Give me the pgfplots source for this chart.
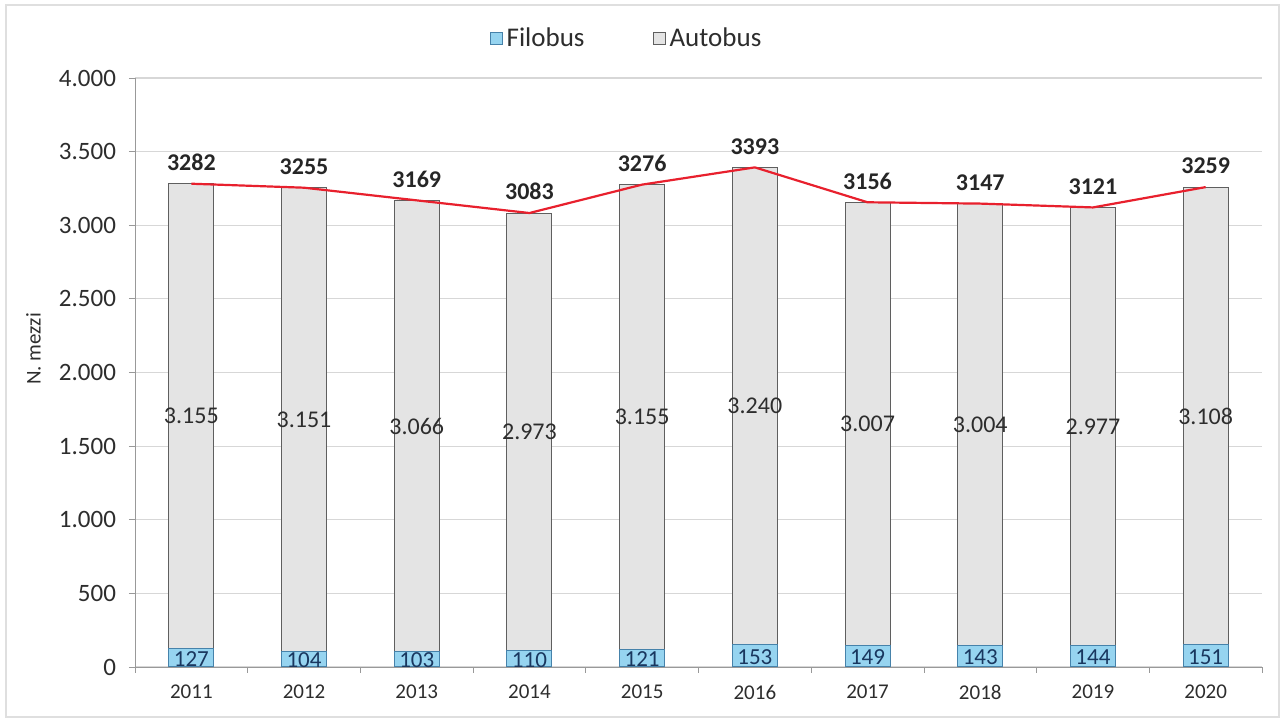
\documentclass[border=0pt]{standalone}
\usepackage{pgfplots}
\pgfplotsset{compat=1.18}
\usepackage{pgfplotstable}
\usepackage{fontspec}
\setmainfont{Carlito}
\usetikzlibrary{calc}
\definecolor{filo}{RGB}{150,212,240}
\definecolor{filoedge}{RGB}{70,130,170}
\definecolor{auto}{RGB}{228,228,228}
\definecolor{autoedge}{RGB}{95,95,95}
\definecolor{linered}{RGB}{232,32,45}
\definecolor{gridc}{RGB}{215,215,215}
\definecolor{txt}{RGB}{45,45,45}
\definecolor{filotxt}{RGB}{25,55,95}

\pgfplotstableread{
x filo auto tot
0 127 3155 3282
1 104 3151 3255
2 103 3066 3169
3 110 2973 3083
4 121 3155 3276
5 153 3240 3393
6 149 3007 3156
7 143 3004 3147
8 144 2977 3121
9 151 3108 3259
}\data

\begin{document}
\begin{tikzpicture}
\pgfplotsset{
  base/.style={
    scale only axis, width=563.5pt, height=294.5pt,
    xmin=-0.5, xmax=9.5, ymin=0, ymax=4000,
  }
}
\begin{axis}[base, name=main,
  ybar stacked, bar width=22.5pt,
  ytick={0,500,...,4000},
  /pgf/number format/.cd, 1000 sep={.}, assume math mode=true, /pgfplots/.cd,
  yticklabel style={font=\fontsize{12.5}{14}\selectfont, text=txt, xshift=-3pt},
  xticklabel style={font=\fontsize{10.5}{12}\selectfont, text=txt, yshift=-2.5pt},
  xtick={0,...,9},
  xticklabels={2011,2012,2013,2014,2015,2016,2017,2018,2019,2020},
  minor xtick={-0.5,0.5,...,9.5},
  major x tick style={draw=none},
  minor x tick style={draw=gray!80, thin},
  tick align=outside, major tick length=3pt, minor tick length=3pt,
  y tick style={draw=gray!80, thin},
  ymajorgrids, grid style={gridc, line width=0.6pt},
  axis x line*=bottom, axis y line*=left,
  axis line style={gray!80, thin, -},
  ylabel={N. mezzi},
  ylabel style={at={(axis description cs:-0.09,0.54)}, anchor=center, font=\fontsize{10.5}{12}\selectfont, text=txt},
  legend style={at={(0.437,1)}, anchor=south, yshift=10pt, draw=none, fill=none,
    legend columns=2, font=\fontsize{13.5}{15}\selectfont, text=txt,
    /tikz/every even column/.append style={column sep=32pt}},
  legend image code/.code={\draw[#1] (0pt,-3pt) rectangle (6pt,3pt);},
]
\addplot[fill=filo, draw=filoedge, line width=0.5pt] table[x=x, y=filo] {\data};
\addlegendentry{Filobus}
\addplot[fill=auto, draw=autoedge, line width=0.5pt] table[x=x, y=auto] {\data};
\addlegendentry{Autobus}
\end{axis}
\begin{axis}[base, hide axis,
  /pgf/number format/.cd, 1000 sep={.}, assume math mode=true, /pgfplots/.cd]
\addplot[linered, line width=1.1pt, mark=none] table[x=x, y=tot] {\data};
\addplot[draw=none, mark=none, nodes near coords={\pgfmathprintnumber[1000 sep={}]{\pgfplotspointmeta}},
  point meta=explicit,
  every node near coord/.append style={anchor=south, yshift=3pt, font=\bfseries\fontsize{12}{14}\selectfont, text=black!85}]
  table[x=x, y=tot, meta=tot] {\data};
\addplot[draw=none, mark=none, nodes near coords={\pgfmathprintnumber[1000 sep={.}]{\pgfplotspointmeta}},
  point meta=explicit,
  every node near coord/.append style={anchor=center, font=\fontsize{12}{14}\selectfont, text=txt}]
  table[x=x, y expr=\thisrow{filo}+0.5*\thisrow{auto}, meta=auto] {\data};
\addplot[draw=none, mark=none, nodes near coords={\pgfmathprintnumber{\pgfplotspointmeta}},
  point meta=explicit,
  every node near coord/.append style={anchor=center, yshift=-0.5pt, font=\fontsize{11.5}{13}\selectfont, text=filotxt}]
  table[x=x, y expr=0.5*\thisrow{filo}, meta=filo] {\data};
\end{axis}
\useasboundingbox ($(main.south west)+(-67.5pt,-27.5pt)$) rectangle ($(main.north east)+(11pt,39pt)$);
\draw[gray!25, line width=0.6pt] ($(main.south west)+(-64.5pt,-25pt)$) rectangle ($(main.north east)+(8.5pt,36.5pt)$);
\end{tikzpicture}
\end{document}
